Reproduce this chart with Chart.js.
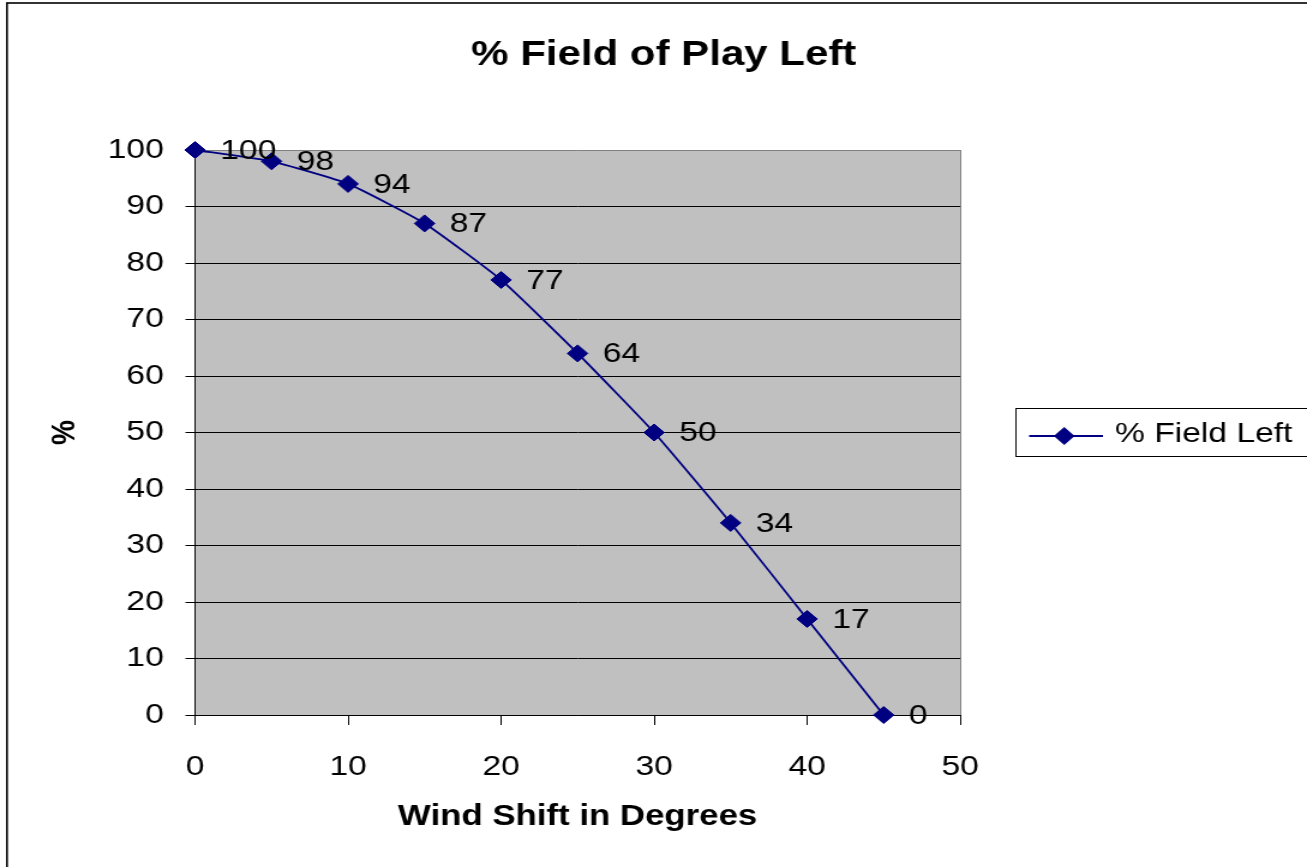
<!DOCTYPE html>
<html>
<head>
<meta charset="utf-8">
<title>% Field of Play Left</title>
<script src="https://cdn.jsdelivr.net/npm/chart.js@4/dist/chart.umd.min.js"></script>
<style>
  html, body { margin: 0; padding: 0; background: #ffffff; overflow: hidden; }
  #fieldChart { display: block; }
</style>
</head>
<body>
<!-- the original picture is stretched sideways, so the canvas is drawn narrower and widened by css -->
<canvas id="fieldChart" width="1089" height="867" style="width:1307px;height:867px"></canvas>
<script>
var windShift = [0, 5, 10, 15, 20, 25, 30, 35, 40, 45];
var fieldLeft = [100, 98, 94, 87, 77, 64, 50, 34, 17, 0];
var seriesName = '% Field Left';
var chartTitle = '% Field of Play Left';
var xTitle = 'Wind Shift in Degrees';
var yTitle = '%';

Chart.defaults.color = '#000000';
Chart.defaults.font.family = '"Liberation Sans", Arial, sans-serif';

var points = windShift.map((x, i) => ({ x: x, y: fieldLeft[i] }));

var navy = '#000080';
var labelFont = '28px "Liberation Sans", Arial, sans-serif';

var backdrop = {
    id: 'backdrop',
    beforeDraw: (chart) => {
        var ctx = chart.ctx;
        var area = chart.chartArea;
        ctx.save();
        ctx.fillStyle = '#ffffff';
        ctx.fillRect(0, 0, chart.width, chart.height);
        ctx.strokeStyle = '#000000';
        ctx.lineWidth = 1.6;
        ctx.strokeRect(5.8, 3, chart.width + 20, chart.height + 20);
        ctx.fillStyle = '#c0c0c0';
        ctx.fillRect(area.left, area.top, area.right - area.left, area.bottom - area.top);
        ctx.restore();
    }
};

var valueLabels = {
    id: 'valueLabels',
    afterDatasetsDraw: (chart) => {
        var ctx = chart.ctx;
        var meta = chart.getDatasetMeta(0);
        ctx.save();
        ctx.font = labelFont;
        ctx.fillStyle = '#000000';
        ctx.textAlign = 'left';
        ctx.textBaseline = 'middle';
        meta.data.forEach((pt, i) => {
            ctx.fillText(String(fieldLeft[i]), pt.x + 21, pt.y + 1);
        });
        ctx.restore();
    }
};

var sideLegend = {
    id: 'sideLegend',
    afterDraw: (chart) => {
        var ctx = chart.ctx;
        ctx.save();
        ctx.strokeStyle = '#000000';
        ctx.lineWidth = 1;
        ctx.strokeRect(846.5, 408.5, 300, 48);
        ctx.strokeStyle = navy;
        ctx.lineWidth = 1.8;
        ctx.beginPath();
        ctx.moveTo(857.5, 436);
        ctx.lineTo(919, 436);
        ctx.stroke();
        ctx.fillStyle = navy;
        ctx.beginPath();
        ctx.moveTo(886.7, 427);
        ctx.lineTo(895.4, 436);
        ctx.lineTo(886.7, 445);
        ctx.lineTo(878, 436);
        ctx.closePath();
        ctx.fill();
        ctx.font = labelFont;
        ctx.fillStyle = '#000000';
        ctx.textAlign = 'left';
        ctx.textBaseline = 'middle';
        ctx.fillText(seriesName, 929, 434);
        ctx.restore();
    }
};

var ctx = document.getElementById('fieldChart').getContext('2d');
var fieldChart = new Chart(ctx, {
    type: 'scatter',
    data: {
        datasets: [{
            label: seriesName,
            data: points,
            showLine: true,
            borderColor: navy,
            borderWidth: 1.8,
            tension: 0.15,
            pointStyle: 'rectRot',
            pointRadius: 8.5,
            pointBackgroundColor: navy,
            pointBorderColor: navy,
            pointBorderWidth: 1,
            clip: false,
        }],
    },
    options: {
        responsive: false,
        animation: false,
        devicePixelRatio: 1,
        layout: {
            padding: { left: 17, right: 0, top: 0, bottom: 0 }
        },
        plugins: {
            legend: { display: false },
            tooltip: { enabled: false },
            title: {
                display: true,
                text: chartTitle,
                color: '#000000',
                font: { size: 35, weight: 'bold' },
                padding: { top: 34, bottom: 74 },
            }
        },
        scales: {
            x: {
                type: 'linear',
                position: 'bottom',
                min: 0,
                max: 50,
                afterFit: (s) => { s.height = 152; },
                ticks: {
                    stepSize: 10,
                    padding: 25,
                    font: { size: 28 },
                    color: '#000000',
                },
                grid: {
                    drawOnChartArea: true,
                    color: (c) => (c.tick && c.tick.value === 50 ? '#808080' : 'rgba(0,0,0,0)'),
                    tickColor: '#000000',
                    tickLength: 10,
                    lineWidth: 1,
                },
                border: { color: '#000000', width: 1 },
                title: {
                    display: true,
                    text: xTitle,
                    color: '#000000',
                    font: { size: 29, weight: 'bold' },
                    padding: { top: 0, bottom: 33 },
                }
            },
            y: {
                type: 'linear',
                position: 'left',
                min: 0,
                max: 100,
                afterFit: (s) => { s.width = 145.5; },
                ticks: {
                    stepSize: 10,
                    padding: 18,
                    font: { size: 28 },
                    color: '#000000',
                },
                grid: {
                    color: (c) => (c.tick && c.tick.value === 100 ? '#808080' : '#000000'),
                    tickColor: '#000000',
                    tickLength: 8,
                    lineWidth: 1,
                },
                border: { color: '#000000', width: 1 },
                title: {
                    display: true,
                    text: yTitle,
                    color: '#000000',
                    font: { size: 28, weight: 'bold' },
                    padding: { top: 20, bottom: 0 },
                }
            },
            // empty axis that only keeps room for the legend on the right
            spacer: {
                type: 'linear',
                position: 'right',
                display: true,
                afterFit: (s) => { s.width = 289; },
                ticks: { display: false },
                grid: { display: false },
                border: { display: false },
            }
        }
    },
    plugins: [backdrop, valueLabels, sideLegend]
});
</script>
</body>
</html>
